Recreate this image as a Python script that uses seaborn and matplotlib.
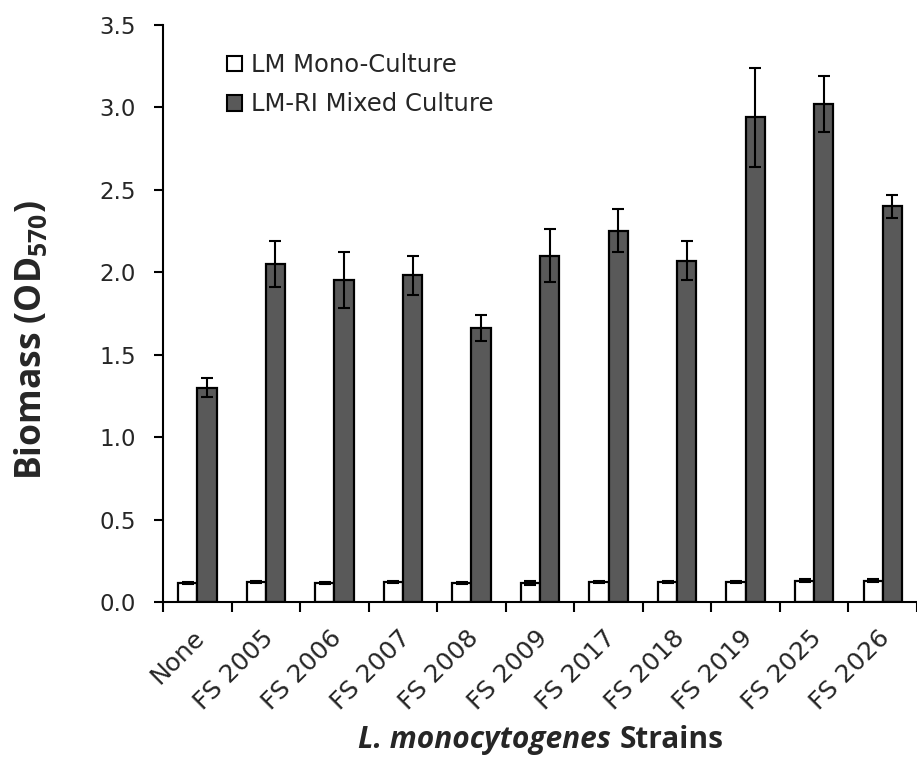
"""
Biomasse (OD570) des souches de L. monocytogenes, mono-culture vs culture mixte.
"""
import numpy as np
import pandas as pd
import matplotlib
matplotlib.use("Agg")
import matplotlib.pyplot as plt
import matplotlib.transforms as mtransforms
import seaborn as sns
from matplotlib.patches import Patch
from matplotlib.ticker import MultipleLocator, FormatStrFormatter
from matplotlib.offsetbox import TextArea, HPacker, AnchoredOffsetbox

sns.set_theme(style="white")
plt.rcParams['font.family'] = ['DejaVu Sans']
plt.rcParams['mathtext.fontset'] = 'custom'
plt.rcParams['mathtext.bf'] = 'Open Sans:bold'

# données
strains = ['None', 'FS 2005', 'FS 2006', 'FS 2007', 'FS 2008', 'FS 2009',
           'FS 2017', 'FS 2018', 'FS 2019', 'FS 2025', 'FS 2026']
mono_mean = [0.115, 0.12, 0.115, 0.12, 0.115, 0.115, 0.12, 0.12, 0.12, 0.13, 0.13]
mono_err = [0.005, 0.005, 0.005, 0.005, 0.005, 0.01, 0.005, 0.005, 0.005, 0.01, 0.01]
mixed_mean = [1.30, 2.05, 1.95, 1.98, 1.66, 2.10, 2.25, 2.07, 2.94, 3.02, 2.40]
mixed_err = [0.06, 0.14, 0.17, 0.12, 0.08, 0.16, 0.13, 0.12, 0.30, 0.17, 0.07]
groups = ['LM Mono-Culture', 'LM-RI Mixed Culture']
colors = ['white', '#595959']

df = pd.DataFrame({
    'strain': strains * 2,
    'group': [groups[0]] * len(strains) + [groups[1]] * len(strains),
    'value': mono_mean + mixed_mean,
})

fig = plt.figure(figsize=(9.17, 7.59), dpi=100)
ax = fig.add_axes([0.1778, 0.2069, 0.8222, 0.7605])

sns.barplot(data=df, x='strain', y='value', hue='group', palette=colors,
            width=0.56, edgecolor='black', linewidth=1.6, legend=False, ax=ax)

# barres d'erreur au centre de chaque barre
for cont, err in zip(ax.containers, [mono_err, mixed_err]):
    xs = [p.get_x() + p.get_width() / 2 for p in cont.patches]
    ys = [p.get_height() for p in cont.patches]
    ax.errorbar(xs, ys, yerr=err, fmt='none', ecolor='black',
                elinewidth=1.5, capsize=4.5, capthick=1.5, zorder=5)

ax.set_ylim(0, 3.5)
ax.set_xlim(-0.5, 10.385)
ax.yaxis.set_major_locator(MultipleLocator(0.5))
ax.yaxis.set_major_formatter(FormatStrFormatter('%.1f'))
ax.set_xticks(np.arange(-0.5, 11, 1), minor=True)
ax.tick_params(axis='x', which='major', length=0, labelsize=18, pad=10)
ax.tick_params(axis='x', which='minor', length=7, width=1.5, color='black', direction='out', bottom=True)
ax.tick_params(axis='y', which='major', length=6.5, width=1.5, color='black', direction='out', left=True,
               labelsize=16.5, pad=13)
shift = mtransforms.ScaledTranslation(-5 / 100, -10 / 100, fig.dpi_scale_trans)
for lab in ax.get_xticklabels():
    lab.set_rotation(45)
    lab.set_ha('right')
    lab.set_rotation_mode('anchor')
    lab.set_transform(lab.get_transform() + shift)

for side in ['top', 'right']:
    ax.spines[side].set_visible(False)
for side in ['left', 'bottom']:
    ax.spines[side].set_color('black')
    ax.spines[side].set_linewidth(1.5)

ax.set_ylabel(r'Biomass (OD$_{\mathbf{570}}$)', fontsize=25.5, fontweight='bold',
              family='Open Sans')
ax.yaxis.set_label_coords(-0.150, 0.453)
ax.set_xlabel('')

# titre de l'axe x : partie en italique + partie droite
t1 = TextArea('L. monocytogenes', textprops=dict(fontsize=21.5, fontweight='bold',
                                                 fontstyle='italic', family='Open Sans'))
t2 = TextArea('Strains', textprops=dict(fontsize=21.5, fontweight='bold', family='Open Sans'))
xlab = HPacker(children=[t1, t2], align='baseline', pad=0, sep=6)
fig.add_artist(AnchoredOffsetbox(loc='center', child=xlab, frameon=False, pad=0, borderpad=0,
                                 bbox_to_anchor=(541 / 917, 1 - 740 / 759),
                                 bbox_transform=fig.transFigure))

handles = [Patch(facecolor=c, edgecolor='black', linewidth=1.5) for c in colors]
ax.legend(handles, groups, loc='upper left', bbox_to_anchor=(0.085, 0.951), frameon=False,
          borderaxespad=0, borderpad=0, fontsize=17.5, handlelength=0.62, handleheight=0.62,
          handletextpad=0.35, labelspacing=0.63)

plt.savefig('out.png', dpi=100)
